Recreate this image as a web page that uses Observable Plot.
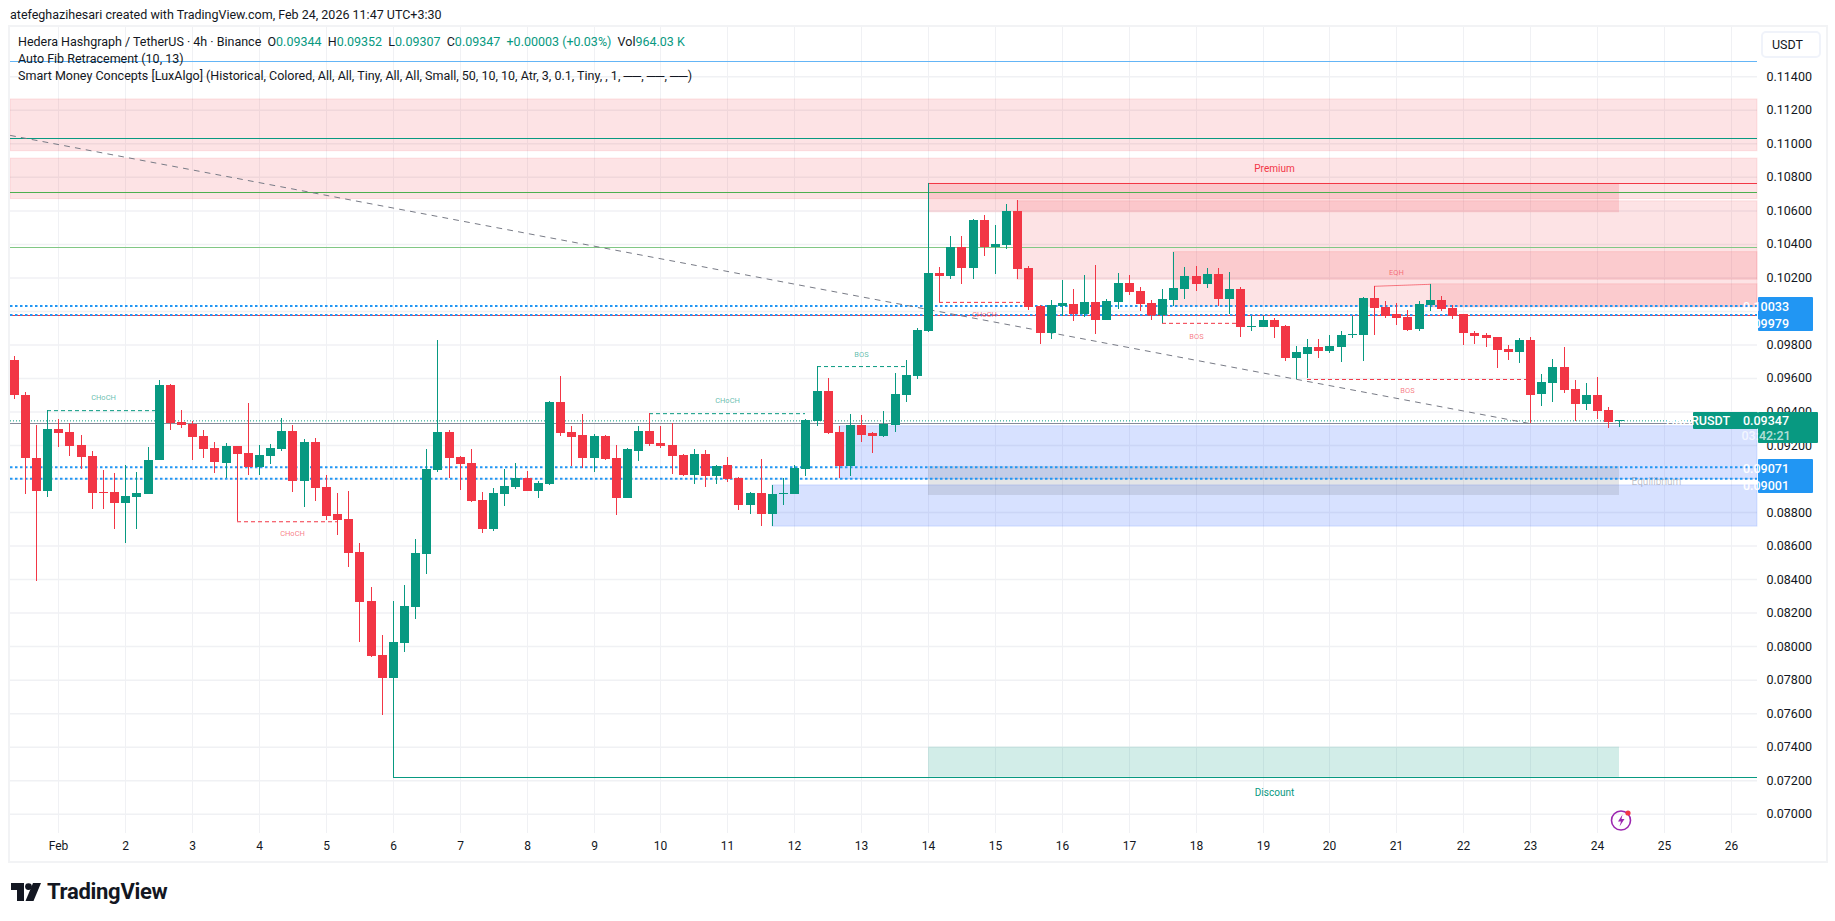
<!DOCTYPE html>
<html>
<head>
<meta charset="utf-8">
<title>HBARUSDT</title>
<script src="https://cdn.jsdelivr.net/npm/d3@7"></script>
<script src="https://cdn.jsdelivr.net/npm/@observablehq/plot@0.6"></script>
<style>
  html, body { margin: 0; background: #fff; }
  body { width: 1835px; height: 921px; position: relative; overflow: hidden; font-family: Roboto, sans-serif; color: #131722; }
  .abs { position: absolute; white-space: pre; }
  .legend { left: 18px; font-size: 12.5px; line-height: 16px; }
  .up { color: #089981; }
  #chart { position: absolute; left: 0; top: 26px; }
  #frame { position: absolute; left: 8px; top: 25px; width: 1816px; height: 834px; border: 2px solid #f2f3f5; pointer-events: none; }
  #unit { left: 1761px; top: 31px; width: 47px; height: 23px; padding-left: 9px; line-height: 23px; font-size: 12.5px; border: 2px solid #f0f3fa; border-radius: 5px; }
</style>
</head>
<body>
<div class="abs" style="left:10px;top:7px;font-size:12.5px;line-height:16px">atefeghazihesari created with TradingView.com, Feb 24, 2026 11:47 UTC+3:30</div>
<div id="chart"></div>
<div id="frame"></div>
<div class="abs legend" style="top:34px">Hedera Hashgraph / TetherUS · 4h · Binance  O<span class="up">0.09344</span>  H<span class="up">0.09352</span>  L<span class="up">0.09307</span>  C<span class="up">0.09347</span>  <span class="up">+0.00003 (+0.03%)</span>  Vol<span class="up">964.03 K</span></div>
<div class="abs legend" style="top:51px">Auto Fib Retracement (10, 13)</div>
<div class="abs legend" style="top:68px">Smart Money Concepts [LuxAlgo] (Historical, Colored, All, All, Tiny, All, All, Small, 50, 10, 10, Atr, 3, 0.1, Tiny, , 1, ──, ──, ──)</div>
<div class="abs" id="unit">USDT</div>
<svg class="abs" style="left:1609px;top:808px" width="24" height="24" viewBox="0 0 24 24">
  <circle cx="12" cy="12.5" r="9.5" fill="none" stroke="#9c27b0" stroke-width="1.6"/>
  <path d="M13.5 6.5 L9 13.5 H12 L10.5 18.5 L15.5 11 H12.5 Z" fill="#9c27b0"/>
  <circle cx="19" cy="5" r="2.6" fill="#f23645"/>
</svg>
<svg class="abs" style="left:11px;top:883px" width="30" height="18" viewBox="0 0 30 18">
  <path d="M0 0 H13 V18 H6 V7 H0 Z" fill="#131722"/>
  <circle cx="17.5" cy="3.6" r="3.4" fill="#131722"/>
  <path d="M22 0 H30 L22.5 18 H14.5 Z" fill="#131722"/>
</svg>
<div class="abs" style="left:47px;top:879px;font-size:22px;line-height:26px;font-weight:700;letter-spacing:-0.3px">TradingView</div>

<script>
// candle positions are counted in 4h bars, bar 0 is the one on the Feb 1 tick
const firstBar = -4;

const opens = [
  0.09709,0.09500,0.09124,0.08927,0.09297,0.09279,0.09201,0.09135,0.08921,0.08921,0.08855,0.08891,
  0.08909,0.09112,0.09559,0.09338,0.09327,0.09255,0.09183,0.09094,0.09195,0.09153,0.09070,0.09135,
  0.09177,0.09285,0.08986,0.09219,0.08950,0.08789,0.08759,0.08562,0.08270,0.07947,0.07810,0.08019,
  0.08234,0.08550,0.09052,0.09279,0.09129,0.09094,0.08873,0.08700,0.08909,0.08950,0.09004,0.08927,
  0.08968,0.09458,0.09279,0.09261,0.09124,0.09255,0.09124,0.08885,0.09165,0.09285,0.09213,0.09201,
  0.09141,0.09022,0.09147,0.09016,0.09082,0.09004,0.08843,0.08915,0.08789,0.08909,0.08909,0.09058,
  0.09344,0.09524,0.09279,0.09076,0.09321,0.09273,0.09255,0.09321,0.09501,0.09614,0.09883,0.10229,
  0.10211,0.10384,0.10259,0.10540,0.10384,0.10396,0.10599,0.10259,0.10032,0.09871,0.10032,0.10044,
  0.09984,0.10056,0.09943,0.10056,0.10169,0.10116,0.10050,0.09978,0.10068,0.10128,0.10211,0.10163,
  0.10223,0.10074,0.10128,0.09907,0.09907,0.09943,0.09913,0.09722,0.09744,0.09786,0.09762,0.09786,
  0.09857,0.09857,0.10078,0.10024,0.09983,0.09965,0.09893,0.10036,0.10066,0.10018,0.09983,0.09869,
  0.09857,0.09845,0.09774,0.09756,0.09827,0.09505,0.09571,0.09666,0.09535,0.09445,0.09499,0.09409,
  0.09344
];
const highs = [
  0.09732,0.09518,0.09321,0.09410,0.09356,0.09332,0.09261,0.09165,0.09052,0.09034,0.09082,0.09040,
  0.09189,0.09589,0.09565,0.09410,0.09344,0.09291,0.09219,0.09213,0.09195,0.09452,0.09201,0.09207,
  0.09362,0.09321,0.09237,0.09243,0.09022,0.08915,0.08927,0.08616,0.08353,0.08067,0.08270,0.08365,
  0.08640,0.09177,0.09828,0.09291,0.09135,0.09177,0.08921,0.08944,0.09058,0.09094,0.09046,0.08986,
  0.09464,0.09613,0.09315,0.09386,0.09267,0.09261,0.09201,0.09183,0.09315,0.09390,0.09315,0.09332,
  0.09147,0.09177,0.09171,0.09082,0.09129,0.09010,0.08921,0.09118,0.08962,0.09004,0.09082,0.09356,
  0.09673,0.09601,0.09315,0.09386,0.09380,0.09279,0.09404,0.09631,0.09710,0.09901,0.10764,0.10265,
  0.10450,0.10450,0.10546,0.10575,0.10510,0.10641,0.10659,0.10271,0.10038,0.10068,0.10187,0.10128,
  0.10217,0.10277,0.10074,0.10229,0.10217,0.10140,0.10068,0.10128,0.10354,0.10265,0.10271,0.10259,
  0.10259,0.10235,0.10140,0.09972,0.09972,0.09960,0.09919,0.09793,0.09833,0.09833,0.09857,0.09881,
  0.09971,0.10084,0.10150,0.10060,0.10048,0.10006,0.10060,0.10162,0.10090,0.10036,0.09983,0.09881,
  0.09869,0.09845,0.09797,0.09839,0.09845,0.09624,0.09714,0.09785,0.09589,0.09571,0.09606,0.09427,
  0.09352
];
const lows = [
  0.09476,0.08909,0.08391,0.08887,0.09189,0.09135,0.09058,0.08819,0.08819,0.08700,0.08616,0.08700,
  0.08909,0.09112,0.09291,0.09303,0.09112,0.09124,0.09034,0.09004,0.08745,0.09022,0.09022,0.09088,
  0.09165,0.08921,0.08831,0.08867,0.08753,0.08664,0.08473,0.08025,0.07935,0.07589,0.07220,0.07965,
  0.08162,0.08431,0.09040,0.09004,0.08932,0.08861,0.08676,0.08688,0.08837,0.08938,0.08927,0.08885,
  0.08962,0.09255,0.09076,0.09064,0.09040,0.09112,0.08783,0.08885,0.09106,0.09195,0.09183,0.09028,
  0.09016,0.08968,0.08950,0.08968,0.08980,0.08813,0.08789,0.08718,0.08718,0.08843,0.08909,0.09016,
  0.09315,0.09267,0.09004,0.09016,0.09219,0.09153,0.09249,0.09279,0.09459,0.09596,0.09877,0.10054,
  0.10193,0.10163,0.10193,0.10325,0.10223,0.10372,0.10193,0.10008,0.09805,0.09835,0.09972,0.09937,
  0.09966,0.09865,0.09943,0.10014,0.10098,0.10002,0.09943,0.09929,0.10032,0.10074,0.10116,0.10134,
  0.10032,0.09984,0.09847,0.09883,0.09907,0.09841,0.09704,0.09596,0.09598,0.09720,0.09750,0.09696,
  0.09839,0.09702,0.09857,0.09959,0.09917,0.09881,0.09881,0.10000,0.10000,0.09953,0.09797,0.09803,
  0.09785,0.09660,0.09708,0.09690,0.09332,0.09433,0.09457,0.09511,0.09344,0.09409,0.09356,0.09302,
  0.09307
];
const closes = [
  0.09496,0.09120,0.08927,0.09297,0.09273,0.09195,0.09129,0.08915,0.08915,0.08855,0.08897,0.08915,
  0.09112,0.09559,0.09332,0.09321,0.09249,0.09177,0.09100,0.09195,0.09147,0.09070,0.09141,0.09183,
  0.09285,0.08986,0.09219,0.08944,0.08777,0.08753,0.08556,0.08264,0.07941,0.07810,0.08025,0.08240,
  0.08556,0.09058,0.09279,0.09124,0.09088,0.08867,0.08700,0.08915,0.08956,0.09004,0.08927,0.08974,
  0.09458,0.09273,0.09249,0.09124,0.09255,0.09118,0.08885,0.09177,0.09285,0.09207,0.09195,0.09135,
  0.09022,0.09147,0.09016,0.09076,0.08998,0.08843,0.08915,0.08789,0.08909,0.08915,0.09064,0.09350,
  0.09524,0.09273,0.09076,0.09321,0.09261,0.09255,0.09327,0.09506,0.09620,0.09889,0.10229,0.10211,
  0.10384,0.10259,0.10540,0.10384,0.10402,0.10599,0.10253,0.10026,0.09871,0.10038,0.10050,0.09984,
  0.10056,0.09943,0.10062,0.10169,0.10110,0.10044,0.09978,0.10074,0.10134,0.10211,0.10163,0.10223,
  0.10074,0.10128,0.09907,0.09913,0.09943,0.09907,0.09722,0.09752,0.09786,0.09762,0.09791,0.09857,
  0.09863,0.10078,0.10018,0.09971,0.09959,0.09887,0.10042,0.10066,0.10012,0.09971,0.09869,0.09851,
  0.09839,0.09768,0.09756,0.09827,0.09499,0.09577,0.09666,0.09529,0.09445,0.09499,0.09403,0.09338,
  0.09347
];

// axis
const priceTicks = [0.070,0.072,0.074,0.076,0.078,0.080,0.082,0.084,0.086,0.088,0.090,0.092,0.094,0.096,0.098,0.100,0.102,0.104,0.106,0.108,0.110,0.112,0.114];
const dayTicks = [0,6,12,18,24,30,36,42,48,54,60,66,72,78,84,90,96,102,108,114,120,126,132,138,144,150];
const dayLabels = ["Feb","2","3","4","5","6","7","8","9","10","11","12","13","14","15","16","17","18","19","20","21","22","23","24","25","26"];

// first and last visible bar, the price range of the pane
const barRange = [-4.336, 152.35];
const priceRange = [0.068849, 0.116942];

// order blocks, extended to the right edge
const redZoneStart = [-4.336, -4.336, 86, 100, 123];
const redZoneHigh = [0.11265, 0.10912, 0.10657, 0.10354, 0.10162];
const redZoneLow = [0.10956, 0.10670, 0.10189, 0.10028, 0.10024];
const blueZoneStart = [70, 64];
const blueZoneHigh = [0.09315, 0.08962];
const blueZoneLow = [0.09000, 0.08716];

// premium, equilibrium, discount bands
const bandStart = 78;
const bandEnd = 140;
const premiumBand = [0.10764, 0.10589];
const equilibriumBand = [0.09075, 0.08902];
const discountBand = [0.07400, 0.07220];

// horizontal levels
const fibBlue = 0.11489;
const fibTeal = 0.11030;
const fibGreen = 0.10708;
const fibLightGreen = 0.10380;
const fibRed = 0.09975;
const fibGray = 0.09330;
const dottedLevels = [0.10033, 0.09979, 0.09071, 0.09001];
const lastPrice = 0.09347;
const strongHighStart = 78;
const strongHigh = 0.10764;
const strongLowStart = 30;
const strongLow = 0.07220;

const trendBars = [-4.336, 132];
const trendPrices = [0.11050, 0.09330];

// market structure breaks
const breakStart = [-1, 16, 53, 68, 79, 99, 112];
const breakEnd = [9, 25, 67, 76, 87, 106, 132];
const breakPrice = [0.09408, 0.08745, 0.09390, 0.09671, 0.10054, 0.09929, 0.09594];
const breakUp = [true, false, true, true, false, false, false];
const breakText = ["CHoCH", "CHoCH", "CHoCH", "BOS", "CHoCH", "BOS", "BOS"];
const breakTextBar = [4, 21, 60, 72, 83, 102, 121];
const breakTextPrice = [0.09485, 0.08673, 0.09467, 0.09741, 0.09980, 0.09852, 0.09528];

const eqhBars = [118, 123];
const eqhPrices = [0.10150, 0.10162];

const GREEN = "#089981";
const RED = "#f23645";
const BLUE = "#2196f3";

const candles = opens.map((o, i) => ({
  bar: firstBar + i,
  open: o,
  high: highs[i],
  low: lows[i],
  close: closes[i],
  color: closes[i] >= o ? GREEN : RED,
}));

const redZones = redZoneStart.map((s, i) => ({ s, high: redZoneHigh[i], low: redZoneLow[i] }));
const blueZones = blueZoneStart.map((s, i) => ({ s, high: blueZoneHigh[i], low: blueZoneLow[i] }));
const breaks = breakStart.map((s, i) => ({
  s,
  e: breakEnd[i],
  price: breakPrice[i],
  color: breakUp[i] ? GREEN : RED,
  text: breakText[i],
  tx: breakTextBar[i],
  ty: breakTextPrice[i],
}));

const band = (range, fill, fillOpacity) =>
  Plot.rectY([range], {
    x1: bandStart,
    x2: bandEnd,
    y1: (d) => d[0],
    y2: (d) => d[1],
    fill,
    fillOpacity,
  });

const level = (price, stroke, start = barRange[0], strokeWidth = 1) =>
  Plot.ruleY([price], { x1: start, x2: barRange[1], stroke, strokeWidth, shapeRendering: "crispEdges" });

// price tags on the axis, they sit on the y scale but are drawn over the axis labels
const priceTags = (index, { y }, values, dimensions) => {
  const g = d3.create("svg:g").attr("font-family", "Roboto, sans-serif").attr("font-size", 12.5).attr("font-weight", 500);
  const left = dimensions.width - dimensions.marginRight + 1;
  const tag = (x, top, w, h, fill) =>
    g.append("rect").attr("x", x).attr("y", top).attr("width", w).attr("height", h).attr("rx", 1).attr("fill", fill);
  const text = (x, cy, s, opacity = 1) =>
    g.append("text").attr("x", x).attr("y", cy).attr("dy", "0.36em").attr("fill", "#fff").attr("fill-opacity", opacity).text(s);
  [[dottedLevels[0], dottedLevels[1]], [dottedLevels[2], dottedLevels[3]]].forEach(([a, b]) => {
    const top = Math.round(y(a));
    tag(left, top - 8, 55, 34, BLUE);
    text(left + 8, top + 1, a.toFixed(5));
    text(left + 8, top + 18, b.toFixed(5));
  });
  const top = Math.round(y(lastPrice));
  tag(left - 65, top - 8, 65, 17, GREEN);
  text(left - 60, top + 0.5, "HBARUSDT");
  tag(left, top - 8, 60, 31, GREEN);
  text(left + 8, top + 0.5, lastPrice.toFixed(5));
  text(left + 8, top + 15, "03:42:21", 0.7);
  return g.node();
};

const chart = Plot.plot({
  width: 1835,
  height: 834,
  marginLeft: 10,
  marginRight: 78,
  marginTop: 1,
  marginBottom: 27,
  style: { background: "#fff", fontFamily: "Roboto, sans-serif" },
  x: { domain: barRange, axis: null, round: true },
  y: { domain: priceRange, axis: null },
  marks: [
    Plot.gridX(dayTicks, { stroke: "#f0f1f4", strokeOpacity: 1 }),
    Plot.gridY(priceTicks, { stroke: "#f0f1f4", strokeOpacity: 1, strokeWidth: 1.5 }),

    Plot.rect(redZones, {
      x1: "s", x2: () => barRange[1], y1: "low", y2: "high",
      fill: RED, fillOpacity: 0.14, stroke: RED, strokeOpacity: 0.12,
    }),
    band(premiumBand, RED, 0.16),
    band(discountBand, GREEN, 0.18),

    Plot.rect(blueZones, {
      x1: "s", x2: () => barRange[1], y1: "low", y2: "high",
      fill: "#2962ff", fillOpacity: 0.19, stroke: "#2962ff", strokeOpacity: 0.16,
    }),
    band(equilibriumBand, "#787b86", 0.2),

    level(fibBlue, "#64b5f6"),
    level(fibTeal, GREEN),
    level(fibGreen, "#4caf50"),
    level(fibLightGreen, "#81c784"),
    level(strongHigh, RED, strongHighStart),
    level(strongLow, GREEN, strongLowStart, 1.5),
    level(fibRed, RED, barRange[0], 1.5),
    level(fibGray, "#868b9a"),

    Plot.ruleY(dottedLevels, {
      x1: barRange[0], x2: barRange[1], stroke: BLUE, strokeWidth: 2, strokeDasharray: "2.5 2.5",
    }),
    Plot.ruleY([lastPrice], {
      x1: barRange[0], x2: barRange[1], stroke: GREEN, strokeWidth: 1, strokeDasharray: "1 2",
    }),

    Plot.line(trendBars.map((b, i) => [b, trendPrices[i]]), {
      x: "0", y: "1", stroke: "#787b86", strokeWidth: 1, strokeDasharray: "5 6",
    }),

    Plot.ruleY(breaks, {
      x1: "s", x2: "e", y: "price", stroke: "color", strokeWidth: 1, strokeDasharray: "4 3",
    }),
    Plot.line(eqhBars.map((b, i) => [b, eqhPrices[i]]), {
      x: "0", y: "1", stroke: RED, strokeOpacity: 0.7, strokeWidth: 1, strokeDasharray: "1 1",
    }),

    // candles
    Plot.ruleX(candles, {
      x: "bar", y1: "low", y2: "high", stroke: "color", strokeWidth: 1, shapeRendering: "crispEdges",
    }),
    Plot.ruleX(candles, {
      x: "bar", y1: "open", y2: "close", stroke: "color", strokeWidth: 9, shapeRendering: "crispEdges",
    }),

    Plot.text(breaks, {
      x: "tx", y: "ty", text: "text", fill: "color", fillOpacity: 0.65, fontSize: 7.5,
    }),
    Plot.text(["EQH"], { x: [120], y: [0.10232], text: (d) => d, fill: RED, fillOpacity: 0.65, fontSize: 7.5 }),
    Plot.text(["Premium"], { x: [109], y: [0.10850], text: (d) => d, fill: RED, fontSize: 10 }),
    Plot.text(["Discount"], { x: [109], y: [0.07125], text: (d) => d, fill: GREEN, fontSize: 10 }),
    Plot.text(["Equilibrium"], { x: [143.3], y: [0.08985], text: (d) => d, fill: "#787b86", fillOpacity: 0.45, fontSize: 10 }),

    Plot.axisX({
      ticks: dayTicks,
      tickFormat: (d) => dayLabels[dayTicks.indexOf(d)],
      tickSize: 0,
      tickPadding: 8,
      fontSize: 12,
      label: null,
      fill: "#131722",
    }),
    Plot.axisY({
      anchor: "right",
      ticks: priceTicks,
      tickFormat: (d) => d.toFixed(5),
      tickSize: 0,
      tickPadding: 9,
      fontSize: 12.5,
      label: null,
      fill: "#131722",
    }),
    priceTags,
  ],
});

document.getElementById("chart").appendChild(chart);
</script>
</body>
</html>
